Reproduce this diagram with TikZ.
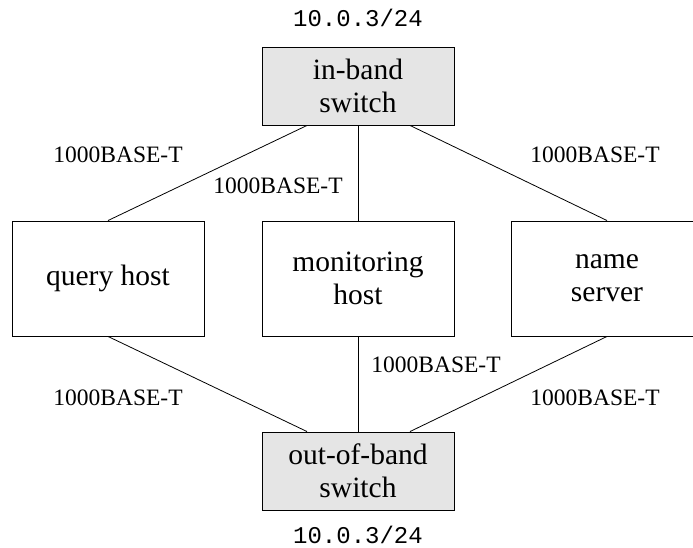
\documentclass[tikz,border=0pt]{standalone}
\usepackage{fontspec}
\setmainfont{Liberation Serif}
\setmonofont{Liberation Mono}
\begin{document}
\begin{tikzpicture}[x=1pt,y=-1pt,
  box/.style={draw,line width=0.9pt,minimum width=192pt,align=center,font=\fontsize{29.5}{33}\selectfont,inner sep=0pt},
  swbox/.style={box,fill=black!10,minimum height=78pt},
  hostbox/.style={box,minimum height=115pt},
  lbl/.style={inner sep=0pt,font=\fontsize{23.5}{26}\selectfont},
  addr/.style={inner sep=0pt,font=\ttfamily\fontsize{24}{26}\selectfont},
  link/.style={line width=0.8pt}]
\useasboundingbox (0,0) rectangle (693,548);
\node[swbox] (top) at (358,86) {in-band\\switch};
\node[hostbox] (query) at (108,278.5) {query host};
\node[hostbox] (mon) at (358,278.5) {monitoring\\host};
\node[hostbox] (name) at (607,278.5) {name\\server};
\node[swbox] (bot) at (358,471) {out-of-band\\switch};
\node[addr] (atop) at (358,18) {10.0.3/24};
\node[addr] (abot) at (358,535) {10.0.3/24};
\draw[link] ([xshift=-51pt]top.south) -- (query.north);
\draw[link] (top.south) -- (mon.north);
\draw[link] ([xshift=52pt]top.south) -- (name.north);
\draw[link] (query.south) -- ([xshift=-51pt]bot.north);
\draw[link] (mon.south) -- (bot.north);
\draw[link] (name.south) -- ([xshift=52pt]bot.north);
\node[lbl] (l1) at (118,155) {1000BASE-T};
\node[lbl] (l2) at (278,186) {1000BASE-T};
\node[lbl] (l3) at (595,155) {1000BASE-T};
\node[lbl] (l4) at (118,398) {1000BASE-T};
\node[lbl] (l5) at (436,365) {1000BASE-T};
\node[lbl] (l6) at (595,398) {1000BASE-T};
\end{tikzpicture}
\end{document}
